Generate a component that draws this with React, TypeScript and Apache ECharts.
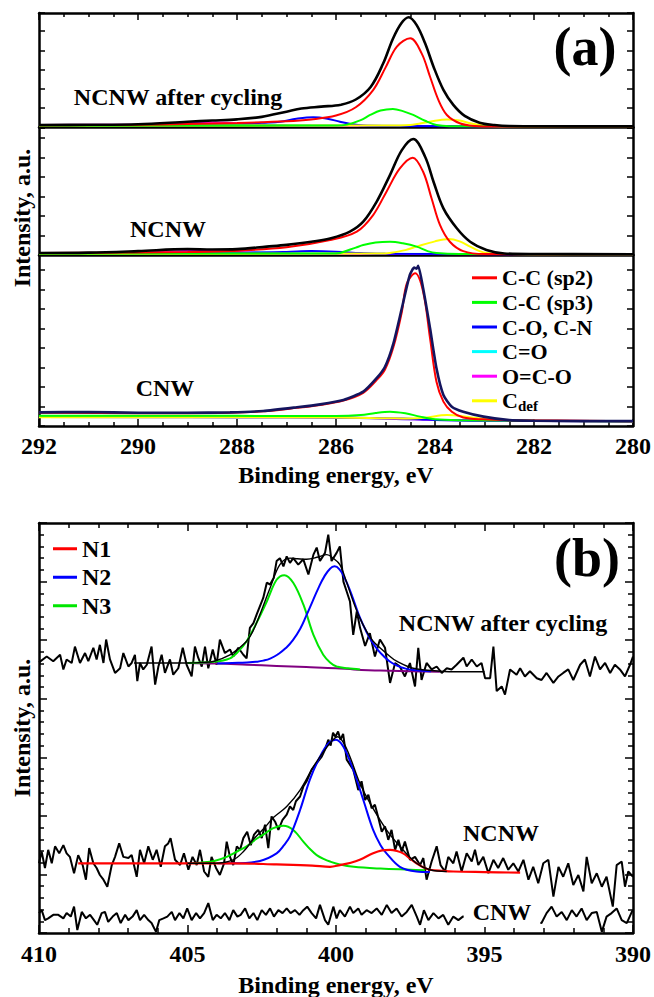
import React, { useEffect, useRef } from "react";
import * as echarts from "echarts";

const FONT = "'Liberation Serif', 'Times New Roman', Times, serif";

// ---------- Panel (a): C 1s, binding energy (eV) vs intensity (a.u.) ----------
const xTicksA = [280, 282, 284, 286, 288, 290, 292];
const legendA = ["C-C (sp2)", "C-C (sp3)", "C-O, C-N", "C=O", "O=C-O", "Cdef"];

// NCNW after cycling
const envA1 = [[292,0.13],[291,0.14],[290,0.17],[289,0.3],[288.5,0.36],[288,0.42],[287.5,0.55],[287,0.82],[286.7,0.98],[286.3,1.08],[285.9,1.18],[285.6,1.45],[285.3,2.1],[285.05,3.3],[284.85,4.6],[284.68,5.4],[284.53,5.71],[284.37,5.3],[284.2,4.36],[284.03,3.15],[283.83,1.95],[283.63,1.17],[283.4,0.6],[283.1,0.25],[282.8,0.13],[282.5,0.08],[281,0.06],[280,0.06]];
const sp2A1 = [[292,0.12],[290,0.14],[289,0.18],[288,0.23],[287,0.32],[286.5,0.42],[286,0.62],[285.6,1.05],[285.25,1.94],[285,3.1],[284.77,4.19],[284.5,4.62],[284.27,3.84],[284.1,2.63],[283.93,1.42],[283.76,0.65],[283.5,0.22],[283.2,0.08],[282.8,0.05],[280,0.05]];
const sp3A1 = [[292,0.1],[286,0.1],[285.78,0.15],[285.5,0.38],[285.31,0.65],[285.1,0.88],[284.85,0.96],[284.65,0.85],[284.44,0.65],[284.2,0.35],[283.97,0.13],[283.7,0.07],[280,0.05]];
const coA1 = [[292,0.13],[289,0.13],[288.14,0.15],[287.5,0.25],[287.13,0.3],[286.8,0.45],[286.46,0.53],[286.2,0.47],[285.92,0.3],[285.7,0.18],[285.45,0.1],[285,0.08],[280,0.05]];
const c2oA1 = [[292,0.12],[288.5,0.13],[287.8,0.17],[287.3,0.14],[286.5,0.1],[280,0.05]];
const oc2oA1 = [[292,0.13],[290,0.15],[289.3,0.22],[288.7,0.27],[288.2,0.24],[287.7,0.15],[287,0.1],[280,0.05]];
const cdefA1 = [[292,0.1],[285,0.1],[284.5,0.13],[284.1,0.3],[283.76,0.42],[283.5,0.36],[283.29,0.22],[283,0.1],[282.7,0.06],[280,0.05]];

// NCNW
const envA2 = [[292,0.1],[291,0.12],[290,0.2],[289,0.3],[288.5,0.28],[288,0.3],[287.4,0.43],[287,0.52],[286.5,0.68],[286.1,0.86],[285.72,1.2],[285.45,1.71],[285.18,2.73],[284.91,4.1],[284.67,5.38],[284.44,5.95],[284.2,5.04],[284.03,3.76],[283.83,2.39],[283.56,1.37],[283.29,0.68],[282.96,0.26],[282.6,0.08],[282,0.05],[280,0.04]];
const sp2A2 = [[292,0.1],[290,0.13],[289,0.15],[288.14,0.2],[287,0.4],[286.12,0.77],[285.58,1.2],[285.25,2.05],[284.98,3.25],[284.71,4.44],[284.45,4.99],[284.24,4.27],[284.07,2.91],[283.9,1.54],[283.7,0.68],[283.43,0.2],[283,0.05],[280,0.04]];
const sp3A2 = [[292,0.08],[286,0.08],[285.92,0.1],[285.6,0.38],[285.45,0.51],[285.2,0.64],[284.91,0.68],[284.65,0.6],[284.37,0.43],[284.15,0.2],[283.97,0.1],[283.5,0.05],[280,0.04]];
const coA2 = [[292,0.1],[288,0.12],[287,0.16],[286.5,0.2],[286,0.17],[285.5,0.1],[285,0.06],[280,0.04]];
const c2oA2 = [[292,0.09],[288,0.1],[287.5,0.13],[287,0.1],[286,0.06],[280,0.04]];
const oc2oA2 = [[292,0.1],[290,0.12],[289.3,0.18],[288.8,0.22],[288.3,0.18],[287.5,0.1],[287,0.06],[280,0.04]];
const cdefA2 = [[292,0.06],[285,0.08],[284.91,0.1],[284.6,0.25],[284.37,0.43],[284,0.7],[283.73,0.82],[283.5,0.7],[283.29,0.43],[283.1,0.2],[282.96,0.1],[282.6,0.05],[280,0.04]];

// CNW
const envA3 = [[292,0.7],[291,0.72],[290,0.68],[289,0.68],[288.14,0.7],[287.47,0.77],[286.79,0.96],[286.32,1.11],[285.85,1.33],[285.45,1.76],[285.18,2.45],[285.01,3.04],[284.84,4.24],[284.67,6.04],[284.51,7.74],[284.42,8.12],[284.37,8.07],[284.34,8.22],[284.24,7.06],[284.1,5.01],[283.97,2.96],[283.83,1.59],[283.66,0.99],[283.43,0.73],[283.02,0.48],[282.5,0.3],[282,0.27],[281,0.25],[280,0.25]];
const sp2A3 = [[292,0.68],[290,0.66],[289,0.66],[288.14,0.68],[287.47,0.75],[286.79,0.93],[286.32,1.08],[285.85,1.3],[285.45,1.7],[285.18,2.35],[285.01,2.9],[284.84,4.05],[284.67,5.85],[284.57,7.3],[284.4,7.83],[284.24,6.89],[284.1,4.5],[283.97,2.27],[283.83,1.25],[283.66,0.73],[283.43,0.44],[283.02,0.34],[282.5,0.3],[280,0.25]];
const sp3A3 = [[292,0.53],[288,0.52],[286,0.51],[285.5,0.56],[285.2,0.67],[284.91,0.73],[284.6,0.65],[284.3,0.48],[284,0.35],[283.5,0.3],[282,0.27],[280,0.25]];
const coA3 = [[292,0.46],[290,0.46],[288,0.45],[286,0.44],[285,0.4],[284.3,0.35],[284,0.31],[283,0.27],[280,0.25]];
const c2oA3 = [[292,0.46],[288,0.45],[286,0.44],[284,0.31],[280,0.25]];
const oc2oA3 = [[292,0.46],[288,0.45],[286,0.44],[284,0.31],[280,0.25]];
const cdefA3 = [[292,0.45],[286,0.44],[285,0.4],[284.5,0.38],[284.2,0.42],[283.76,0.56],[283.3,0.45],[282.8,0.32],[282,0.27],[280,0.25]];

// ---------- Panel (b): N 1s ----------
const legendB = ["N1", "N2", "N3"];

const rawAC = [[410,4.62],[409.74,4.72],[409.52,4.64],[409.29,4.75],[409.18,4.5],[409.07,4.67],[408.9,4.61],[408.79,4.89],[408.62,4.61],[408.45,4.78],[408.34,4.64],[408.17,4.87],[408.06,4.67],[407.95,4.92],[407.83,4.61],[407.74,5.01],[407.61,4.67],[407.44,4.44],[407.27,4.52],[407.16,4.78],[406.99,4.55],[406.88,4.61],[406.77,4.75],[406.69,4.3],[406.6,4.61],[406.49,4.5],[406.37,4.58],[406.21,4.89],[406.09,4.24],[405.98,4.55],[405.87,4.75],[405.76,4.44],[405.59,4.67],[405.48,4.41],[405.31,4.52],[405.16,4.87],[405.03,4.58],[404.86,4.38],[404.75,4.89],[404.64,4.7],[404.52,4.55],[404.41,4.89],[404.3,4.52],[404.15,4.84],[404.02,4.58],[403.91,5.01],[403.74,4.78],[403.57,4.84],[403.46,4.72],[403.29,4.87],[403.12,4.75],[403.01,4.69],[402.9,5.21],[402.78,5.29],[402.67,5.44],[402.45,5.72],[402.33,5.98],[402.22,5.95],[402.1,6.06],[402,6.35],[401.89,6.4],[401.77,6.26],[401.66,6.43],[401.55,6.32],[401.44,6.4],[401.27,6.29],[401.1,6.38],[400.93,6.12],[400.76,6.46],[400.65,6.58],[400.54,6.35],[400.37,6.49],[400.26,6.8],[400.15,6.35],[399.98,6.49],[399.87,6.6],[399.75,6.0],[399.64,5.83],[399.53,5.66],[399.42,5.09],[399.3,5.49],[399.19,5.21],[399.02,4.9],[398.86,5.12],[398.69,4.72],[398.52,5.01],[398.35,4.87],[398.18,4.27],[398.01,4.61],[397.85,4.55],[397.68,4.38],[397.51,4.61],[397.34,4.21],[397.23,4.87],[397.12,4.32],[396.95,4.61],[396.78,4.5],[396.61,4.55],[396.44,4.44],[396.27,4.52],[396.11,4.5],[395.94,4.58],[395.71,4.7],[395.6,4.55],[395.43,4.67],[395.26,4.55],[395.1,4.61],[394.98,4.35],[394.81,4.35],[394.7,4.89],[394.59,4.13],[394.42,4.21],[394.31,4.07],[394.14,4.5],[393.92,4.41],[393.8,4.52],[393.64,4.38],[393.47,4.47],[393.24,4.35],[393.08,4.32],[392.91,4.44],[392.68,4.27],[392.51,4.38],[392.35,4.44],[392.18,4.5],[392.01,4.32],[391.78,4.58],[391.62,4.67],[391.45,4.38],[391.28,4.72],[391.11,4.5],[390.94,4.61],[390.77,4.44],[390.61,4.58],[390.44,4.5],[390.27,4.38],[390.1,4.58],[390,4.72]];
const fitAC = [[406.8,4.61],[406,4.61],[405,4.61],[404.5,4.62],[404.1,4.64],[403.57,4.75],[403.3,4.85],[403.01,4.98],[402.8,5.15],[402.56,5.44],[402.22,5.89],[401.89,6.29],[401.55,6.4],[401.3,6.39],[400.99,6.38],[400.6,6.42],[400.31,6.46],[400.1,6.4],[399.87,6.29],[399.65,6.0],[399.42,5.66],[399.2,5.38],[398.97,5.15],[398.75,4.98],[398.52,4.87],[398.2,4.73],[397.96,4.64],[397.4,4.52],[396.5,4.47],[395.8,4.46],[395,4.46]];
const bgAC = [[405,4.61],[404,4.6],[403,4.58],[402,4.56],[401,4.54],[400,4.52],[399.4,4.5],[398.5,4.48],[397.5,4.47],[396.5,4.46]];
const n3AC = [[405,4.61],[404.1,4.63],[403.57,4.69],[403.3,4.8],[403.01,4.98],[402.67,5.3],[402.33,5.66],[402,6.03],[401.74,6.11],[401.44,5.98],[401.1,5.61],[400.76,5.09],[400.43,4.75],[400.2,4.62],[399.98,4.55],[399.6,4.52],[399.19,4.5]];
const n2AC = [[404,4.6],[403.5,4.61],[403,4.62],[402.7,4.63],[402.45,4.65],[402.2,4.69],[401.95,4.76],[401.7,4.86],[401.45,5.0],[401.2,5.2],[400.99,5.43],[400.8,5.65],[400.6,5.88],[400.4,6.08],[400.2,6.22],[400.05,6.26],[399.87,6.2],[399.7,6.05],[399.53,5.85],[399.35,5.6],[399.19,5.38],[399,5.17],[398.8,4.98],[398.6,4.84],[398.4,4.73],[398.2,4.64],[397.96,4.57],[397.7,4.52],[397.4,4.49],[396.8,4.47]];

const rawN = [[410,1.19],[409.91,1.39],[409.8,1.11],[409.69,1.42],[409.57,1.19],[409.46,1.48],[409.32,1.36],[409.18,1.5],[409.07,1.36],[408.96,1.3],[408.82,1.02],[408.68,1.33],[408.53,1.16],[408.42,0.91],[408.31,1.45],[408.17,1.19],[408.06,1.11],[407.95,0.99],[407.83,0.91],[407.7,0.79],[407.55,1.16],[407.44,1.3],[407.3,1.53],[407.16,1.3],[406.99,1.28],[406.88,1.33],[406.71,0.96],[406.6,1.42],[406.46,1.19],[406.32,1.48],[406.17,1.25],[406.04,1.42],[405.9,1.13],[405.76,1.48],[405.65,1.53],[405.57,1.62],[405.42,1.25],[405.25,1.16],[405.12,1.36],[404.97,1.08],[404.83,1.3],[404.69,1.16],[404.58,1.42],[404.44,1.05],[404.3,0.96],[404.19,1.3],[404.04,1.11],[403.91,0.99],[403.77,1.19],[403.68,1.56],[403.57,1.3],[403.46,1.16],[403.34,1.48],[403.23,1.42],[403.12,1.62],[402.99,1.73],[402.87,1.5],[402.76,1.68],[402.62,1.76],[402.5,1.62],[402.39,1.85],[402.28,1.45],[402.17,1.99],[402.05,1.9],[401.94,1.76],[401.8,1.93],[401.66,2.02],[401.55,2.16],[401.44,2.1],[401.35,2.25],[401.21,2.33],[401.1,2.5],[400.99,2.59],[400.82,2.79],[400.65,2.9],[400.48,3.01],[400.37,3.13],[400.26,3.3],[400.18,3.2],[400.1,3.42],[400.02,3.35],[399.93,3.44],[399.85,3.3],[399.76,3.4],[399.64,2.96],[399.42,2.79],[399.25,2.44],[399.14,2.59],[399.02,2.27],[398.91,2.36],[398.8,2.13],[398.69,2.19],[398.57,1.96],[398.46,1.73],[398.35,1.82],[398.24,1.59],[398.13,1.76],[398.01,1.42],[397.9,1.59],[397.79,1.39],[397.68,1.56],[397.51,1.25],[397.34,1.3],[397.17,1.16],[397.06,1.28],[396.95,0.91],[396.78,1.22],[396.61,1.48],[396.48,1.16],[396.33,1.05],[396.22,1.3],[396.05,1.19],[395.94,1.39],[395.77,1.05],[395.6,1.36],[395.43,1.22],[395.32,1.42],[395.21,1.16],[395.04,1.3],[394.87,1.02],[394.7,1.25],[394.54,1.11],[394.37,1.28],[394.2,1.08],[394.03,1.19],[393.86,1.05],[393.69,1.25],[393.52,0.91],[393.36,1.13],[393.19,0.85],[393.02,1.19],[392.85,1.25],[392.68,0.62],[392.51,1.13],[392.35,0.96],[392.18,1.19],[392.01,0.82],[391.84,0.99],[391.67,0.71],[391.56,1.3],[391.39,0.85],[391.22,1.02],[391.05,0.79],[390.89,0.96],[390.68,0.45],[390.55,1.16],[390.38,1.22],[390.27,0.79],[390.16,1.05],[390,0.96]];
const fitN = [[405,1.19],[404.13,1.19],[403.46,1.25],[403.1,1.4],[402.78,1.6],[402.4,1.8],[402.11,1.97],[401.66,2.16],[401.21,2.44],[400.76,2.84],[400.37,3.13],[400.1,3.3],[399.95,3.35],[399.75,3.25],[399.53,3.01],[399.2,2.56],[398.86,2.22],[398.3,1.76],[397.85,1.48],[397.29,1.19],[396.84,1.08],[396.27,1.05]];
const n1N = [[408.68,1.19],[407,1.19],[405,1.19],[403.46,1.19],[402,1.17],[400.8,1.15],[400.2,1.13],[399.87,1.16],[399.5,1.2],[399.2,1.25],[398.75,1.36],[398.45,1.41],[398.18,1.42],[397.95,1.4],[397.74,1.36],[397.5,1.27],[397.29,1.19],[397.05,1.12],[396.84,1.08],[396.4,1.06],[396.05,1.05],[395,1.04],[393.8,1.03]];
const n2N = [[404,1.19],[403.46,1.19],[402.56,1.23],[402,1.36],[401.75,1.5],[401.55,1.65],[401.21,2.1],[400.88,2.62],[400.54,3.01],[400.25,3.24],[400,3.3],[399.75,3.18],[399.42,2.79],[399.08,2.27],[398.75,1.76],[398.5,1.5],[398.3,1.36],[397.85,1.13],[397.29,1.05],[396.84,1.04]];
const n3N = [[404.8,1.19],[404.58,1.2],[404.1,1.23],[403.68,1.3],[403.3,1.4],[403.01,1.48],[402.7,1.6],[402.45,1.68],[402.11,1.79],[401.77,1.83],[401.44,1.76],[401.1,1.56],[400.85,1.42],[400.65,1.33],[400.4,1.26],[400.2,1.22],[399.87,1.17],[399.4,1.13],[398.5,1.1],[397.5,1.08],[397,1.07]];

const rawC = [[410,0.34],[409.91,0.39],[409.8,0.22],[409.69,0.25],[409.52,0.31],[409.35,0.31],[409.18,0.25],[409.07,0.34],[408.93,0.28],[408.82,0.45],[408.71,0.05],[408.56,0.36],[408.42,0.25],[408.28,0.31],[408.15,0.22],[408.04,0.14],[407.89,0.34],[407.78,0.36],[407.67,0.19],[407.52,0.28],[407.38,0.34],[407.25,0.17],[407.1,0.31],[406.99,0.22],[406.85,0.28],[406.71,0.39],[406.6,0.22],[406.46,0.31],[406.32,0.22],[406.21,0.17],[406.06,0.02],[405.95,0.22],[405.81,0.25],[405.68,0.28],[405.53,0.36],[405.42,0.22],[405.27,0.34],[405.14,0.25],[405.01,0.42],[404.86,0.22],[404.71,0.34],[404.58,0.25],[404.44,0.34],[404.3,0.51],[404.15,0.22],[404.02,0.31],[403.88,0.25],[403.74,0.34],[403.59,0.22],[403.46,0.39],[403.32,0.28],[403.21,0.31],[403.06,0.42],[402.92,0.25],[402.78,0.34],[402.65,0.22],[402.5,0.39],[402.36,0.31],[402.22,0.42],[402.09,0.28],[401.94,0.39],[401.8,0.34],[401.66,0.42],[401.53,0.34],[401.38,0.39],[401.23,0.31],[401.1,0.39],[400.97,0.45],[400.82,0.34],[400.67,0.25],[400.54,0.48],[400.37,0.22],[400.26,0.14],[400.09,0.45],[399.98,0.25],[399.87,0.39],[399.7,0.28],[399.53,0.45],[399.42,0.34],[399.25,0.42],[399.14,0.31],[398.97,0.39],[398.8,0.34],[398.63,0.42],[398.46,0.31],[398.29,0.48],[398.13,0.34],[397.96,0.42],[397.79,0.28],[397.62,0.36],[397.45,0.48],[397.28,0.28],[397.17,0.14],[397.04,0.39],[396.89,0.22],[396.72,0.34],[396.55,0.25],[396.39,0.31],[396.22,0.14],[396.05,0.28],[395.88,0.22],[395.73,0.28],[393.08,0.17],[392.91,0.34],[392.74,0.45],[392.57,0.28],[392.4,0.36],[392.23,0.22],[392.06,0.39],[391.9,0.28],[391.73,0.42],[391.56,0.22],[391.39,0.34],[391.22,0.36],[391.05,0.02],[390.89,0.28],[390.72,0.34],[390.55,0.42],[390.38,0.22],[390.21,0.17],[390.04,0.36],[390,0.39]];

const C = {
  red: "#ff0000", green: "#00ff00", blue: "#0000ff", cyan: "#00ffff",
  magenta: "#ff00ff", yellow: "#ffff00", black: "#000000", navy: "#14145e", purple: "#800080", greenB: "#00e600",
};

function buildOption() {
  const L = 39, W = 594;
  const grids = [
    { left: L, width: W, top: 13, height: 114.5 },
    { left: L, width: W, top: 127.5, height: 127.5 },
    { left: L, width: W, top: 255, height: 171 },
    { left: L, width: W, top: 523, height: 410 },
  ];
  const lineS = { color: "#000", width: 2.5 };
  const tickS = { color: "#000", width: 1.5 };
  const label = { show: true, color: "#000", fontFamily: FONT, fontWeight: "bold", fontSize: 24, showMinLabel: true, showMaxLabel: true };

  const xBase = (g: number, min: number, max: number, interval: number, position: string) => ({
    type: "value", gridIndex: g, min, max, interval, inverse: true, position,
    splitLine: { show: false },
    axisLine: { show: true, onZero: false, lineStyle: lineS },
    axisTick: { show: false },
    minorTick: { show: false },
    axisLabel: { show: false },
  });
  const withTicks = (ax: any, len: number, minorLen: number, split: number) => ({
    ...ax,
    axisTick: { show: true, inside: true, length: len, lineStyle: tickS },
    minorTick: { show: true, splitNumber: split, length: minorLen, lineStyle: tickS },
  });

  const xAxis = [
    xBase(0, 280, 292, 2, "bottom"), // 0
    withTicks(xBase(0, 280, 292, 2, "top"), 7, 4, 4), // 1
    xBase(1, 280, 292, 2, "bottom"), // 2
    { ...withTicks(xBase(2, 280, 292, 2, "bottom"), 7, 4, 4), axisLabel: { ...label, margin: 8 } }, // 3
    { ...withTicks(xBase(3, 390, 410, 5, "bottom"), 8, 5, 5), axisLabel: { ...label, margin: 9 } }, // 4
    withTicks(xBase(3, 390, 410, 5, "top"), 8, 5, 5), // 5
  ];

  const yPair = (g: number, max: number, minor: boolean, len: number) =>
    ["left", "right"].map((position) => ({
      type: "value", gridIndex: g, min: 0, max, interval: 1, position,
      splitLine: { show: false },
      axisLine: { show: true, onZero: false, lineStyle: lineS },
      axisTick: { show: true, inside: true, length: len, lineStyle: tickS },
      minorTick: { show: minor, splitNumber: 5, length: 5, lineStyle: tickS },
      axisLabel: { show: false },
    }));
  const yAxis = [
    ...yPair(0, 5.93, false, 6),
    ...yPair(1, 6.54, false, 6),
    ...yPair(2, 8.77, false, 6),
    ...yPair(3, 7, true, 8),
  ];

  const ln = (name: string, data: any, color: string, width: number, xi: number, yi: number, smooth: any = 0.35) => ({
    type: "line", name, data, xAxisIndex: xi, yAxisIndex: yi, symbol: "none", showSymbol: false,
    smooth, color, itemStyle: { color }, lineStyle: { color, width }, silent: true, clip: true,
  });

  const sub = (xi: number, yi: number, d: any[], envColor: string, envSmooth: any) => [
    ln(legendA[3], d[4], C.cyan, 2, xi, yi),
    ln(legendA[4], d[5], C.magenta, 2, xi, yi),
    ln(legendA[2], d[3], C.blue, 2, xi, yi),
    ln(legendA[5], d[6], C.yellow, 2, xi, yi),
    ln(legendA[1], d[2], C.green, 2, xi, yi),
    ln(legendA[0], d[1], C.red, 2, xi, yi),
    ln("envelope", d[0], envColor, 2.6, xi, yi, envSmooth),
  ];

  const series = [
    ...sub(0, 0, [envA1, sp2A1, sp3A1, coA1, c2oA1, oc2oA1, cdefA1], C.black, 0.35),
    ...sub(2, 2, [envA2, sp2A2, sp3A2, coA2, c2oA2, oc2oA2, cdefA2], C.black, 0.35),
    ...sub(3, 4, [envA3, sp2A3, sp3A3, coA3, c2oA3, oc2oA3, cdefA3], C.navy, 0.2),
    // panel b
    ln("rawAC", rawAC, C.black, 2, 4, 6, false),
    ln("bgAC", bgAC, C.purple, 2, 4, 6),
    ln("N3", n3AC, C.greenB, 2, 4, 6),
    ln("N2", n2AC, C.blue, 2, 4, 6, 0.5),
    ln("fitAC", fitAC, C.black, 1.4, 4, 6),
    ln("rawC", rawC, C.black, 2, 4, 6, false),
    ln("rawN", rawN, C.black, 2, 4, 6, false),
    ln("N3", n3N, C.greenB, 2, 4, 6),
    ln("N2", n2N, C.blue, 2, 4, 6),
    ln("N1", n1N, C.red, 2.2, 4, 6),
    ln("fitN", fitN, C.black, 1.4, 4, 6),
  ];

  const txtBase = { fontFamily: FONT, fontWeight: "bold", fill: "#000" };
  const txt = (text: string, x: number, y: number, size: number, extra: any = {}, rotation = 0) => ({
    type: "text", x, y, rotation, z: 100, silent: true,
    style: { ...txtBase, text, fontSize: size, align: "center", verticalAlign: "middle", textAlign: "center", textVerticalAlign: "middle", ...extra },
  });

  const graphic = [
    txt("(a)", 585, 47, 54),
    txt("(b)", 587, 558, 54),
    txt("NCNW after cycling", 178, 97, 24),
    txt("NCNW", 168, 229, 24),
    txt("CNW", 165, 388, 24),
    txt("Binding energy, eV", 336, 475, 24),
    txt("Intensity, a.u.", 22, 218, 24, {}, Math.PI / 2),
    txt("NCNW after cycling", 503, 623, 24),
    txt("NCNW", 501, 833, 24),
    txt("CNW", 502, 912, 24, { backgroundColor: "#fff", padding: [3, 9, 3, 9] }),
    txt("Binding energy, eV", 336, 985, 24),
    txt("Intensity, a.u.", 22, 728, 24, {}, Math.PI / 2),
  ];

  const legendText = (size: number, lh: number) => ({
    color: "#000", fontFamily: FONT, fontWeight: "bold", fontSize: size, lineHeight: lh,
    rich: {
      m: { color: "#000", fontFamily: FONT, fontWeight: "bold", fontSize: size, lineHeight: lh },
      s: { color: "#000", fontFamily: FONT, fontWeight: "bold", fontSize: 15, lineHeight: 15, verticalAlign: "bottom" },
    },
  });

  const legend = [
    {
      orient: "vertical", left: 472, top: 265.5, itemWidth: 25, itemHeight: 3, itemGap: 0, icon: "rect",
      padding: 0, selectedMode: false,
      data: legendA,
      formatter: (n: string) => (n === "Cdef" ? "{m|C}{s|def}" : n),
      textStyle: legendText(22, 24.6),
    },
    {
      orient: "vertical", left: 53, top: 534.5, itemWidth: 24, itemHeight: 3, itemGap: 0, icon: "rect",
      padding: 0, selectedMode: false,
      data: legendB,
      textStyle: legendText(24, 28.5),
    },
  ];

  return {
    animation: false,
    backgroundColor: "#fff",
    grid: grids,
    xAxis,
    yAxis,
    series,
    legend,
    graphic: { elements: graphic },
  };
}

export default function App() {
  const ref = useRef<HTMLDivElement>(null);
  useEffect(() => {
    const chart = echarts.init(ref.current as HTMLDivElement, null, { renderer: "svg" });
    chart.setOption(buildOption() as any);
    return () => chart.dispose();
  }, []);
  return <div ref={ref} style={{ position: "absolute", left: 0, top: 0, width: 654, height: 997 }} />;
}
